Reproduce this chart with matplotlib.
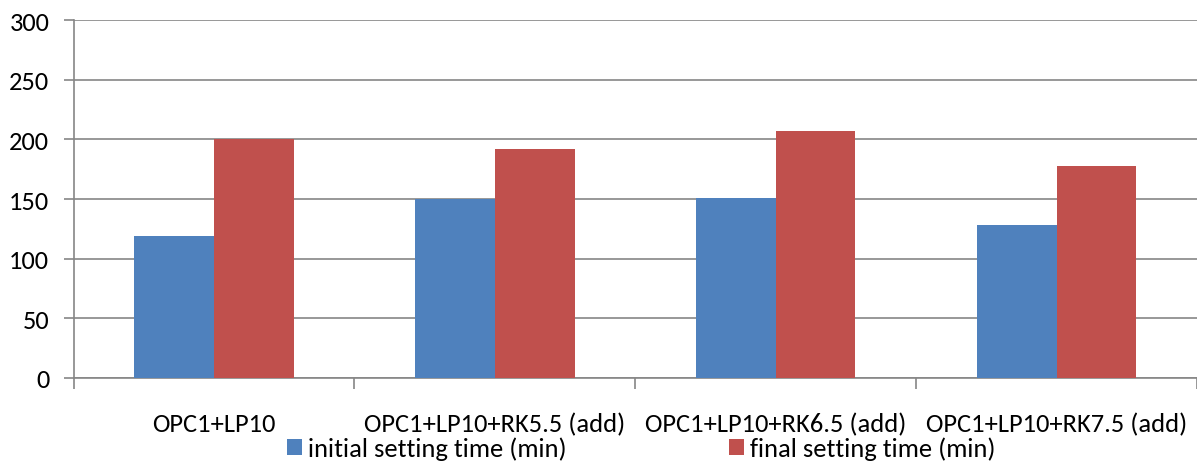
import matplotlib.pyplot as plt
import numpy as np
from matplotlib import font_manager
from matplotlib.textpath import TextPath
from matplotlib.font_manager import FontProperties

mixes = ['OPC1+LP10', 'OPC1+LP10+RK5.5 (add)', 'OPC1+LP10+RK6.5 (add)', 'OPC1+LP10+RK7.5 (add)']
initial_time = [119, 150, 151, 128]
final_time = [200, 192, 207, 178]
series_names = ['initial setting time (min)', 'final setting time (min)']

# pick a Calibri-like face, falling back to narrower/standard sans fonts
names = {f.name for f in font_manager.fontManager.ttflist}
font = next(f for f in ['Carlito', 'Liberation Sans Narrow', 'Arimo', 'Liberation Sans']
            if f in names)
plt.rcParams['font.family'] = [font, 'DejaVu Sans']

# size the text so the longest category label is ~258 px wide at 100 dpi
probe = TextPath((0, 0), mixes[1], size=10, prop=FontProperties(family=font))
w10 = probe.get_extents().width  # in points at size 10
fs = 10 * 258 / (w10 * 100 / 72)
plt.rcParams['font.size'] = fs
em = fs * 100 / 72  # font size in pixels

W, H = 1197, 464
fig = plt.figure(figsize=(W / 100, H / 100), dpi=100)
ax = fig.add_axes([73.5 / W, (H - 378.7) / H, (W - 73.5) / W, 357.4 / H])

x = np.arange(len(mixes))
bw = 0.284
ax.bar(x - bw / 2, initial_time, bw, color='#4F81BD', label=series_names[0], zorder=3)
ax.bar(x + bw / 2, final_time, bw, color='#C0504D', label=series_names[1], zorder=3)

ax.set_ylim(0, 300)
ax.set_yticks(range(0, 301, 50))
ax.set_xlim(-0.5, 3.486)
ax.grid(axis='y', color='#868686', linewidth=1.2, zorder=0)

# boundaries between categories carry the tick marks, labels sit in the middle
ax.set_xticks(x)
ax.set_xticklabels(mixes)
ax.set_xticks(np.arange(-0.5, 4, 1), minor=True)
ax.tick_params(axis='x', which='major', length=0, pad=24.5)
ax.tick_params(axis='x', which='minor', length=8, color='#868686', width=1.2)
ax.tick_params(axis='y', length=7, color='#868686', width=1.2, pad=10.5)

for side in ['top', 'right']:
    ax.spines[side].set_visible(False)
for side in ['left', 'bottom']:
    ax.spines[side].set_color('#868686')
    ax.spines[side].set_linewidth(1.2)

fig.legend(loc='lower left', bbox_to_anchor=(284 / W, 0.0), ncol=2, frameon=False,
           handlelength=15 / em, handleheight=14 / em, handletextpad=6 / em,
           columnspacing=163 / em, borderaxespad=0, borderpad=0.1)

fig.savefig('out.png', dpi=100)
